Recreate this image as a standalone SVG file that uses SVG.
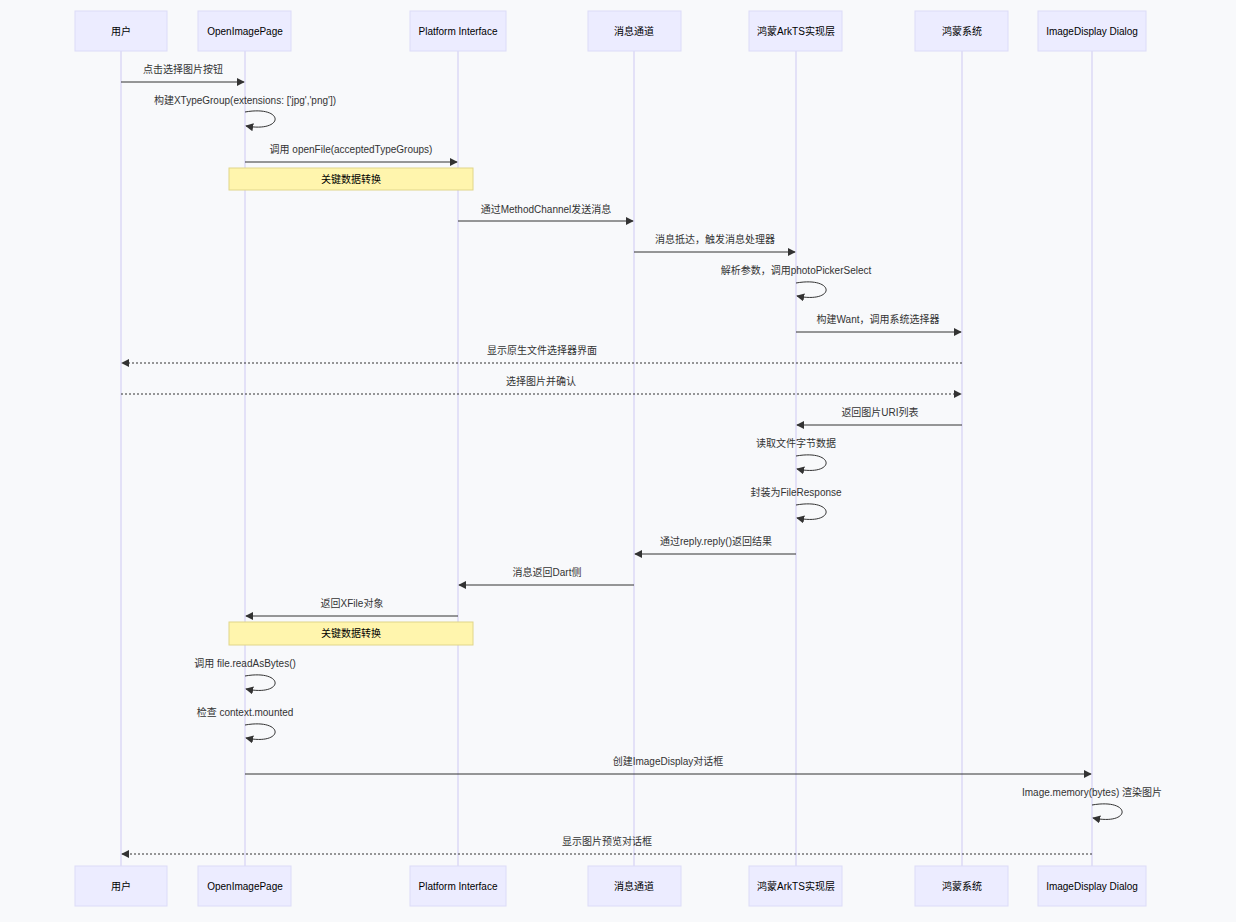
<svg xmlns="http://www.w3.org/2000/svg" width="1236" height="922" viewBox="0 0 1236 922">
<style>
text{font-family:"Liberation Sans",Arial,"Noto Sans CJK SC",sans-serif;font-size:10px;fill:#333;text-anchor:middle}
.actor rect{fill:#ECECFF;stroke:#DCDCF8;stroke-width:1}
.actor text{font-size:10px;fill:#000}
.life{stroke:#D6D0F5;stroke-width:1.2}
.msg{stroke:#333;stroke-width:1;fill:none}
.dash{stroke-dasharray:2,2}
.note rect{fill:#FFF5AD;stroke:#E0D68A}
.note text{fill:#000}
</style>
<defs>
<marker id="ah" viewBox="0 0 10 10" refX="9" refY="5" markerWidth="8" markerHeight="8" orient="auto-start-reverse"><path d="M0,0L10,5L0,10z" fill="#333"/></marker>
</defs>
<rect width="1236" height="922" fill="#F8F9FB"/>
<g id="lifelines">
<line class="life" x1="121" y1="51" x2="121" y2="866"/>
<line class="life" x1="245" y1="51" x2="245" y2="866"/>
<line class="life" x1="458" y1="51" x2="458" y2="866"/>
<line class="life" x1="634" y1="51" x2="634" y2="866"/>
<line class="life" x1="796" y1="51" x2="796" y2="866"/>
<line class="life" x1="962" y1="51" x2="962" y2="866"/>
<line class="life" x1="1092" y1="51" x2="1092" y2="866"/>
</g>
<g id="actor-user" class="actor"><rect x="75" y="11" width="92" height="40"/><text x="121" y="35">用户</text><rect x="75" y="866" width="92" height="40"/><text x="121" y="890">用户</text></g>
<g id="actor-page" class="actor"><rect x="198" y="11" width="93" height="40"/><text x="245" y="35">OpenImagePage</text><rect x="198" y="866" width="93" height="40"/><text x="245" y="890">OpenImagePage</text></g>
<g id="actor-platform" class="actor"><rect x="410" y="11" width="96" height="40"/><text x="458" y="35">Platform Interface</text><rect x="410" y="866" width="96" height="40"/><text x="458" y="890">Platform Interface</text></g>
<g id="actor-channel" class="actor"><rect x="588" y="11" width="93" height="40"/><text x="634" y="35">消息通道</text><rect x="588" y="866" width="93" height="40"/><text x="634" y="890">消息通道</text></g>
<g id="actor-arkts" class="actor"><rect x="749" y="11" width="93" height="40"/><text x="796" y="35">鸿蒙ArkTS实现层</text><rect x="749" y="866" width="93" height="40"/><text x="796" y="890">鸿蒙ArkTS实现层</text></g>
<g id="actor-system" class="actor"><rect x="915" y="11" width="93" height="40"/><text x="962" y="35">鸿蒙系统</text><rect x="915" y="866" width="93" height="40"/><text x="962" y="890">鸿蒙系统</text></g>
<g id="actor-dialog" class="actor"><rect x="1038" y="11" width="108" height="40"/><text x="1092" y="35">ImageDisplay Dialog</text><rect x="1038" y="866" width="108" height="40"/><text x="1092" y="890">ImageDisplay Dialog</text></g>
<g id="notes" class="note">
<rect x="229" y="168" width="244" height="22"/><text x="351" y="183">关键数据转换</text>
<rect x="229" y="622" width="244" height="23"/><text x="351" y="637">关键数据转换</text>
</g>
<g id="connectors">
<text x="183" y="73">点击选择图片按钮</text><line class="msg" x1="121" y1="82" x2="244" y2="82" marker-end="url(#ah)"/>
<text x="245" y="104">构建XTypeGroup(extensions: ['jpg','png'])</text><path class="msg" d="M245,112 C285,105 285,133 246,126" marker-end="url(#ah)"/>
<text x="351" y="153">调用 openFile(acceptedTypeGroups)</text><line class="msg" x1="245" y1="162" x2="457" y2="162" marker-end="url(#ah)"/>
<text x="546" y="213">通过MethodChannel发送消息</text><line class="msg" x1="458" y1="221" x2="633" y2="221" marker-end="url(#ah)"/>
<text x="715" y="243">消息抵达，触发消息处理器</text><line class="msg" x1="634" y1="252" x2="795" y2="252" marker-end="url(#ah)"/>
<text x="796" y="274">解析参数，调用photoPickerSelect</text><path class="msg" d="M796,283 C836,276 836,304 797,296" marker-end="url(#ah)"/>
<text x="878" y="323">构建Want，调用系统选择器</text><line class="msg" x1="796" y1="332" x2="961" y2="332" marker-end="url(#ah)"/>
<text x="542" y="354">显示原生文件选择器界面</text><line class="msg dash" x1="962" y1="363" x2="122" y2="363" marker-end="url(#ah)"/>
<text x="541" y="385">选择图片并确认</text><line class="msg dash" x1="121" y1="394" x2="961" y2="394" marker-end="url(#ah)"/>
<text x="880" y="416">返回图片URI列表</text><line class="msg" x1="962" y1="425" x2="797" y2="425" marker-end="url(#ah)"/>
<text x="796" y="447">读取文件字节数据</text><path class="msg" d="M796,456 C836,449 836,477 797,469" marker-end="url(#ah)"/>
<text x="796" y="496">封装为FileResponse</text><path class="msg" d="M796,505 C836,498 836,526 797,518" marker-end="url(#ah)"/>
<text x="716" y="545">通过reply.reply()返回结果</text><line class="msg" x1="796" y1="554" x2="635" y2="554" marker-end="url(#ah)"/>
<text x="547" y="576">消息返回Dart侧</text><line class="msg" x1="634" y1="585" x2="459" y2="585" marker-end="url(#ah)"/>
<text x="352" y="607">返回XFile对象</text><line class="msg" x1="458" y1="616" x2="246" y2="616" marker-end="url(#ah)"/>
<text x="245" y="667">调用 file.readAsBytes()</text><path class="msg" d="M245,676 C285,669 285,697 246,689" marker-end="url(#ah)"/>
<text x="245" y="716">检查 context.mounted</text><path class="msg" d="M245,725 C285,718 285,746 246,738" marker-end="url(#ah)"/>
<text x="668" y="765">创建ImageDisplay对话框</text><line class="msg" x1="245" y1="774" x2="1091" y2="774" marker-end="url(#ah)"/>
<text x="1092" y="796">Image.memory(bytes) 渲染图片</text><path class="msg" d="M1092,805 C1132,798 1132,826 1093,818" marker-end="url(#ah)"/>
<text x="607" y="845">显示图片预览对话框</text><line class="msg dash" x1="1092" y1="854" x2="122" y2="854" marker-end="url(#ah)"/>
</g>
</svg>
